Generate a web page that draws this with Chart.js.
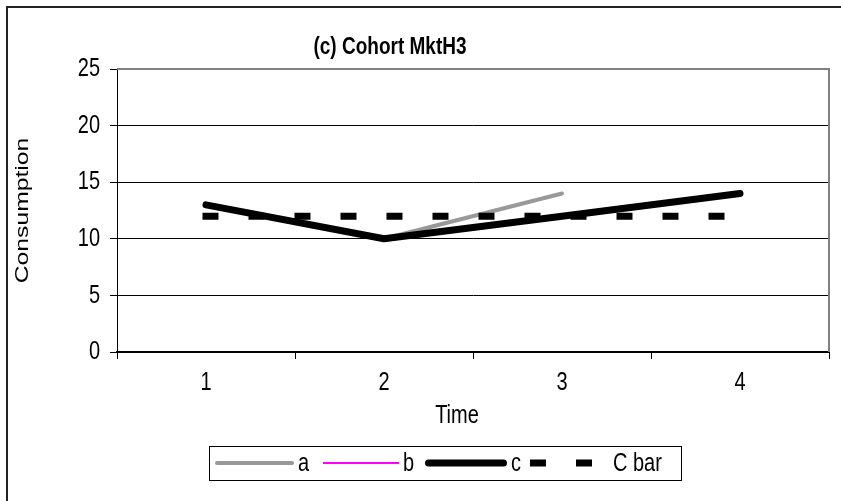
<!DOCTYPE html>
<html>
<head>
<meta charset="utf-8">
<script src="https://cdn.jsdelivr.net/npm/chart.js@4"></script>
<style>
  html, body { margin: 0; padding: 0; background: #fff; }
  canvas { display: block; }
</style>
</head>
<body>
<canvas id="c" width="841" height="501"></canvas>
<script>
// ---- data ----
const chartTitle = "(c) Cohort MktH3";
const xTitle = "Time";
const yTitle = "Consumption";
const categories = ["1", "2", "3", "4"];
const seriesNames = ["a", "b", "c", "C bar"];
const seriesA = [null, 10, 14, null];
const seriesB = [13, 10, 12, 14];
const seriesC = [13, 10, 12, 14];
const seriesCbar = [12, 12, 12, 12];
const yTicks = [0, 5, 10, 15, 20, 25];

const FONT = '"Liberation Sans", Arial, sans-serif';
const TEXT_STRETCH = 1.3; // the original's lettering is drawn taller than wide

const styles = [
  { color: "#999999", width: 4, dash: [], cap: "round" },
  { color: "#FF00FF", width: 2, dash: [], cap: "butt" },
  { color: "#000000", width: 7, dash: [], cap: "round" },
  { color: "#000000", width: 7, dash: [9, 37], cap: "square" }
];
const values = [seriesA, seriesB, seriesC, seriesCbar];

const datasets = values.map((v, i) => ({
  label: seriesNames[i],
  data: v,
  borderColor: styles[i].color,
  backgroundColor: styles[i].color,
  borderWidth: styles[i].width,
  borderDash: styles[i].dash,
  borderCapStyle: styles[i].cap,
  borderJoinStyle: "round",
  pointRadius: 0,
  tension: 0,
  fill: false,
  order: values.length - i   // later series drawn on top, like the original
}));

const canvas = document.getElementById("c");
const ctx2d = canvas.getContext("2d");
// draw all text stretched vertically (in page space) around its anchor
const origFillText = ctx2d.fillText.bind(ctx2d);
ctx2d.fillText = function (t, x, y, maxW) {
  const m = ctx2d.getTransform();
  const p = m.transformPoint(new DOMPoint(x, y));
  ctx2d.save();
  const lin = new DOMMatrix([m.a, m.b, m.c, m.d, 0, 0]);
  ctx2d.setTransform(new DOMMatrix().translate(p.x, p.y).scale(1, TEXT_STRETCH).multiply(lin));
  if (maxW === undefined || maxW === null) origFillText(t, 0, 0);
  else origFillText(t, 0, 0, maxW);
  ctx2d.restore();
};

const decor = {
  id: "decor",
  beforeDraw(chart) {
    const ctx = chart.ctx;
    ctx.save();
    ctx.fillStyle = "#fff";
    ctx.fillRect(0, 0, chart.width, chart.height);
    ctx.restore();
  },
  afterDraw(chart) {
    const ctx = chart.ctx;
    const a = chart.chartArea;
    ctx.save();
    // plot frame (top/right grey)
    ctx.strokeStyle = "#808080";
    ctx.lineWidth = 2;
    ctx.beginPath();
    ctx.moveTo(a.left, a.top);
    ctx.lineTo(a.right, a.top);
    ctx.lineTo(a.right, a.bottom);
    ctx.stroke();
    // outer chart border (top and left visible)
    ctx.strokeStyle = "#222";
    ctx.lineWidth = 2;
    ctx.beginPath();
    ctx.moveTo(7, chart.height + 5);
    ctx.lineTo(7, 7);
    ctx.lineTo(chart.width + 5, 7);
    ctx.stroke();
    // title
    ctx.fillStyle = "#000";
    ctx.font = "bold 19px " + FONT;
    ctx.textAlign = "center";
    ctx.textBaseline = "middle";
    ctx.fillText(chartTitle, 390, 47);
    // x axis title
    ctx.font = "20px " + FONT;
    ctx.fillText(xTitle, 457, 416);
    // legend
    ctx.strokeStyle = "#000";
    ctx.lineWidth = 1;
    ctx.strokeRect(209.5, 446.5, 472, 34);
    const cy = 463;
    const itemX = [215, 323, 425, 520];
    const sampleLen = [79, 76, 82, 78];
    const dashOffset = [0, 0, 0, 36];
    ctx.textAlign = "left";
    chart.data.datasets.forEach((ds, i) => {
      const x0 = itemX[i];
      ctx.save();
      ctx.strokeStyle = ds.borderColor;
      ctx.lineWidth = ds.borderWidth;
      ctx.lineCap = i === 3 ? "butt" : ds.borderCapStyle;
      ctx.setLineDash(i === 3 ? [16, 30] : ds.borderDash);
      ctx.lineDashOffset = dashOffset[i];
      ctx.beginPath();
      ctx.moveTo(x0 + (ds.borderCapStyle === "round" ? ds.borderWidth / 2 : 0), cy);
      ctx.lineTo(x0 + sampleLen[i] - (ds.borderCapStyle === "round" ? ds.borderWidth / 2 : 0), cy);
      ctx.stroke();
      ctx.restore();
      ctx.fillStyle = "#000";
      ctx.fillText(ds.label, x0 + sampleLen[i] + (i === 3 ? 15 : 4), cy + 1);
    });
    ctx.restore();
  }
};

new Chart(canvas, {
  type: "line",
  data: { labels: categories, datasets },
  plugins: [decor],
  options: {
    responsive: false,
    animation: false,
    devicePixelRatio: 1,
    layout: { padding: { left: 8, right: 12, top: 69, bottom: 0 } },
    plugins: {
      legend: { display: false },
      title: { display: false },
      tooltip: { enabled: false }
    },
    scales: {
      x: {
        type: "category",
        offset: true,
        afterFit(s) { s.height = 149; },
        grid: {
          offset: true,
          drawOnChartArea: false,
          drawTicks: true,
          tickLength: 7,
          color: "#000",
          lineWidth: 1
        },
        border: { display: true, color: "#000", width: 2 },
        ticks: { color: "#000", font: { family: FONT, size: 20 }, padding: 12, maxRotation: 0 },
        title: { display: false, text: xTitle }
      },
      y: {
        min: 0, max: 25,
        afterFit(s) { s.width = 109; },
        afterBuildTicks(s) { s.ticks = yTicks.map(v => ({ value: v })); },
        grid: { color: "#000", lineWidth: 1, tickLength: 7, drawTicks: true },
        border: { display: true, color: "#000", width: 1 },
        ticks: { color: "#000", font: { family: FONT, size: 20 }, padding: 10 },
        title: {
          display: true, text: yTitle, color: "#000",
          font: { family: FONT, size: 19 },
          padding: { top: 3, bottom: 0 }
        }
      }
    }
  }
});
</script>
</body>
</html>
